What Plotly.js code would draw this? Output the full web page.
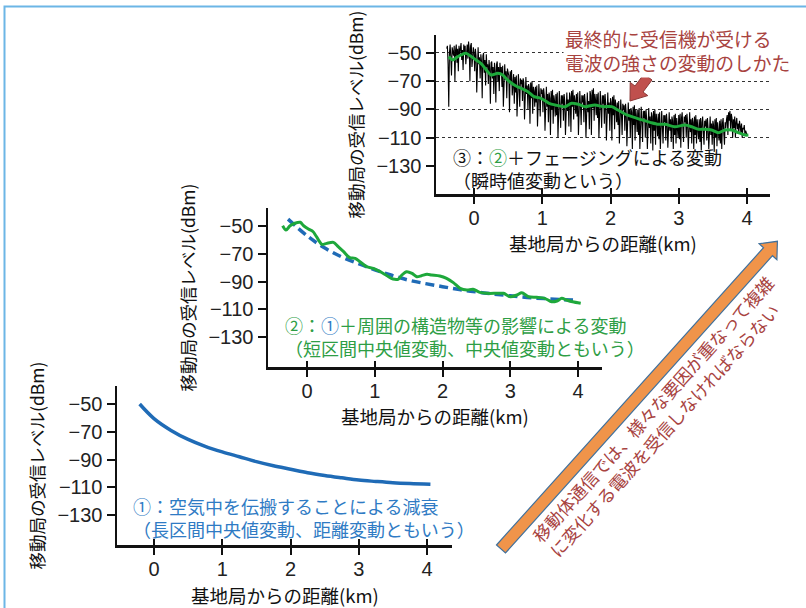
<!DOCTYPE html>
<html><head><meta charset="utf-8">
<script src="https://cdn.plot.ly/plotly-3.0.1.min.js"></script>
<style>html,body{margin:0;padding:0;background:#fff;}#chart{width:806px;height:608px;}</style>
</head><body><div id="chart"></div>
<script>
// ---------- DATA ----------
// Panel ① : distance attenuation (long-interval median)
const dist1  = [-0.21, 0, 0.25, 0.5, 0.75, 1.0, 1.25, 1.5, 1.75, 2.0, 2.25, 2.5, 2.75, 3.0, 3.25, 3.5, 3.75, 4.05];
const level1 = [-50, -60.5, -69, -75.5, -80.5, -84.5, -88, -91.5, -94.5, -97, -99.5, -101.5, -103.2, -104.8, -105.8, -106.7, -107.3, -107.8];

// Panel ② : blue dashed trend (①) and green short-interval median
const dist2Trend  = [-0.28, 0, 0.25, 0.5, 0.75, 1.0, 1.25, 1.5, 1.75, 2.0, 2.25, 2.5, 2.75, 3.0, 3.25, 3.5, 3.75, 4.0];
const level2Trend = [-45, -57, -65.5, -72, -77, -81.5, -85.5, -89, -91.5, -93.7, -95.8, -97.5, -99, -100.3, -101.5, -102.3, -103, -103.5];
const dist2Median  = [-0.36,-0.31,-0.25,-0.18,-0.10,-0.05,0.02,0.09,0.17,0.22,0.29,0.39,0.46,0.54,0.63,0.71,0.78,0.88,0.98,1.08,1.18,1.27,1.35,1.40,1.47,1.55,1.62,1.69,1.77,1.84,1.96,2.06,2.16,2.26,2.36,2.45,2.55,2.65,2.80,2.90,3.00,3.10,3.17,3.27,3.39,3.51,3.61,3.69,3.76,3.83,3.92,4.04];
const level2Median = [-49.8,-52.9,-49.8,-48.0,-47.3,-49.8,-52.2,-54.1,-60.1,-63.2,-62.5,-61.8,-64.9,-68.5,-72.8,-73.3,-75.7,-79.3,-80.5,-82.9,-85.8,-88.2,-88.2,-85.3,-82.9,-84.1,-86.5,-85.8,-84.8,-85.3,-86.0,-87.7,-90.8,-94.9,-96.1,-95.6,-97.8,-98.5,-98.5,-98.5,-101.0,-99.7,-98.1,-101.0,-101.4,-102.1,-104.6,-104.0,-102.1,-103.3,-104.6,-105.7];

// Panel ③ : instantaneous level with fading (sampled every 0.01 km from -0.40 km)
const fadingStartKm = -0.40;
const fadingStepKm  = 0.01;
const fadingLevel = [
 -47,-45,-58,-88,-50,-44,-53,-66,-46,-49,
 -52,-45,-70,-48,-44,-57,-47,-63,-45,-51,
 -46,-43,-55,-48,-62,-44,-50,-45,-58,-47,
 -44,-54,-42,-47,-70,-45,-43,-60,-48,-46,
 -50,-63,-47,-52,-78,-49,-46,-58,-53,-68,
 -51,-56,-82,-52,-50,-64,-55,-73,-51,-60,
 -58,-72,-55,-61,-86,-57,-56,-68,-60,-79,
 -57,-63,-85,-58,-56,-70,-60,-77,-57,-65,
 -60,-74,-59,-88,-62,-58,-69,-63,-82,-61,
 -64,-66,-92,-63,-71,-62,-80,-67,-65,-86,
 -67,-78,-66,-95,-69,-65,-74,-88,-68,-72,
 -69,-84,-68,-71,-97,-70,-67,-79,-73,-90,
 -72,-75,-100,-71,-82,-70,-93,-74,-77,-88,
 -74,-85,-73,-102,-76,-72,-81,-95,-75,-79,
 -76,-92,-75,-80,-105,-77,-74,-88,-79,-99,
 -78,-82,-108,-77,-90,-76,-100,-80,-84,-95,
 -79,-94,-78,-110,-82,-77,-88,-103,-80,-86,
 -80,-98,-79,-84,-108,-81,-78,-91,-83,-102,
 -78,-81,-106,-77,-88,-76,-97,-80,-84,-93,
 -79,-95,-78,-108,-81,-77,-87,-101,-80,-85,
 -80,-99,-79,-85,-110,-82,-78,-92,-84,-104,
 -77,-80,-108,-76,-89,-75,-98,-79,-83,-94,
 -79,-96,-78,-110,-81,-77,-88,-103,-80,-86,
 -80,-100,-79,-86,-112,-82,-78,-93,-85,-105,
 -82,-85,-112,-81,-94,-80,-104,-83,-88,-99,
 -85,-101,-84,-114,-87,-83,-93,-108,-86,-90,
 -87,-105,-86,-92,-116,-88,-85,-98,-90,-110,
 -89,-92,-118,-88,-101,-87,-112,-90,-95,-106,
 -90,-108,-89,-118,-92,-88,-99,-113,-91,-96,
 -91,-110,-90,-97,-118,-93,-89,-103,-95,-114,
 -92,-95,-119,-91,-105,-90,-115,-93,-98,-109,
 -93,-111,-92,-118,-95,-91,-102,-114,-94,-99,
 -94,-112,-93,-99,-117,-96,-92,-105,-97,-113,
 -95,-98,-118,-94,-108,-93,-114,-96,-101,-110,
 -94,-111,-93,-117,-96,-92,-103,-113,-95,-99,
 -94,-110,-93,-100,-118,-96,-92,-106,-97,-114,
 -96,-99,-118,-95,-108,-94,-114,-97,-102,-111,
 -97,-113,-96,-119,-99,-95,-106,-115,-98,-102,
 -97,-112,-96,-103,-118,-99,-95,-108,-100,-115,
 -98,-101,-120,-97,-110,-96,-116,-99,-104,-112,
 -98,-114,-97,-118,-100,-96,-107,-115,-99,-103,
 -97,-94,-108,-92,-98,-91,-105,-93,-96,-110,
 -97,-103,-95,-110,-99,-96,-104,-100,-107,-98,
 -102,-106,-100,-110,-103,-104,-101,-108,-105,-107,
 -108];
const dist3Median  = [-0.37,-0.31,-0.26,-0.19,-0.12,-0.04,0.03,0.10,0.18,0.25,0.35,0.42,0.49,0.59,0.69,0.79,0.88,0.98,1.10,1.19,1.33,1.43,1.53,1.63,1.77,1.89,2.02,2.11,2.24,2.36,2.46,2.58,2.70,2.80,2.94,3.09,3.19,3.29,3.38,3.48,3.58,3.68,3.78,3.87,3.97,4.02];
const level3Median = [-52.6,-55.0,-53.3,-51.4,-50.2,-52.6,-55.0,-57.3,-62.0,-65.6,-64.4,-65.6,-69.1,-72.7,-75.0,-77.4,-80.9,-82.1,-85.6,-86.8,-88.0,-85.6,-86.3,-88.0,-86.8,-88.0,-88.0,-90.4,-93.9,-95.8,-97.4,-99.1,-100.5,-100.5,-102.2,-101.0,-102.2,-104.0,-104.0,-104.5,-106.4,-104.5,-104.5,-106.4,-108.1,-108.1];

// Ticks and labels
const xTicks = [0, 1, 2, 3, 4];
const yTicks = [-50, -70, -90, -110, -130];
const gridTicks = [-50, -70, -90, -110];
const xTitle = '基地局からの距離(km)';
const yTitle = '移動局の受信レベル(dBm)';
const note1 = ['①：空気中を伝搬することによる減衰', '（長区間中央値変動、距離変動ともいう）'];
const note2 = ['②：<span style="color:#2F7BC4">①</span>＋周囲の構造物等の影響による変動', '（短区間中央値変動、中央値変動ともいう）'];
const note3 = ['③：<span style="color:#2E9E45">②</span>＋フェージングによる変動', '（瞬時値変動という）'];
const noteTop = ['最終的に受信機が受ける', '電波の強さの変動のしかた'];
const noteArrow = ['移動体通信では、様々な要因が重なって複雑', 'に変化する電波を受信しなければならない'];

// ---------- STYLE / LAYOUT ----------
const W = 806, H = 608;
const PX = p => p / W, PY = p => 1 - p / H;
const P = (x, y) => PX(x).toFixed(5) + ',' + PY(y).toFixed(5);
const poly = pts => 'M' + pts.map(p => P(p[0], p[1])).join('L') + 'Z';

const BLUE = '#1F6BB6', GREEN = '#1EA83B', TXTBLUE = '#2F7BC4', TXTGREEN = '#2E9E45', RED = '#A8433F';
const CJK = 'Noto Sans CJK JP, sans-serif';
const NUM = 'Liberation Sans, Arial, sans-serif';

function xa(domL, domR, range) {
  return {domain: [PX(domL), PX(domR)], range: range, showline: true, linecolor: '#111', linewidth: 2.5,
    ticks: 'outside', ticklen: 7, tickwidth: 2, tickcolor: '#111', tickvals: xTicks,
    tickfont: {family: NUM, size: 20, color: '#222'}, ticklabelstandoff: -3,
    showgrid: false, zeroline: false, fixedrange: true};
}
// overlay x-axis that adds the inner half of the crossing tick marks
function xin(over, anchor, domL, domR, range) {
  return {overlaying: over, anchor: anchor, domain: [PX(domL), PX(domR)], range: range, showline: false,
    ticks: 'inside', ticklen: 6, tickwidth: 2, tickcolor: '#111', tickvals: xTicks, showticklabels: false,
    showgrid: false, zeroline: false, fixedrange: true};
}
function ya(domB, domT, range) {
  return {domain: [PY(domB), PY(domT)], range: range, showline: true, linecolor: '#111', linewidth: 2.5,
    ticks: 'outside', ticklen: 8, tickwidth: 2, tickcolor: '#111', tickvals: yTicks,
    tickfont: {family: NUM, size: 20, color: '#222'},
    showgrid: false, zeroline: false, fixedrange: true,
    title: {text: yTitle, font: {family: CJK, size: 17.5, color: '#111'}, standoff: 9}};
}

const traces = [
  {x: dist1, y: level1, xaxis: 'x', yaxis: 'y', mode: 'lines', line: {color: BLUE, width: 3.5, shape: 'spline'}},
  {x: dist2Trend, y: level2Trend, xaxis: 'x2', yaxis: 'y2', mode: 'lines', line: {color: BLUE, width: 3.5, dash: '9px,5px', shape: 'spline'}},
  {x: dist2Median, y: level2Median, xaxis: 'x2', yaxis: 'y2', mode: 'lines', line: {color: GREEN, width: 3, shape: 'spline', smoothing: 0.8}},
  {y: fadingLevel, x0: fadingStartKm, dx: fadingStepKm, xaxis: 'x3', yaxis: 'y3', mode: 'lines', line: {color: '#000', width: 1.1}},
  {x: dist3Median, y: level3Median, xaxis: 'x3', yaxis: 'y3', mode: 'lines', line: {color: GREEN, width: 3, shape: 'spline', smoothing: 0.8}},
  {x: [], y: [], xaxis: 'x3', yaxis: 'y4', mode: 'lines', showlegend: false},
  {x: [], y: [], xaxis: 'x4', yaxis: 'y', mode: 'lines', showlegend: false},
  {x: [], y: [], xaxis: 'x5', yaxis: 'y2', mode: 'lines', showlegend: false},
  {x: [], y: [], xaxis: 'x6', yaxis: 'y3', mode: 'lines', showlegend: false}
];

const note = (lines, x, y, color, size, extra) => Object.assign({
  text: lines.join('<br>'),
  xref: 'paper', yref: 'paper', x: PX(x), y: PY(y), xanchor: 'left', yanchor: 'middle', align: 'left',
  showarrow: false, font: {family: CJK, size: size, color: color}}, extra || {});
const axTitle = (x, y) => ({text: xTitle, xref: 'paper', yref: 'paper', x: PX(x), y: PY(y), xanchor: 'center', yanchor: 'middle',
  showarrow: false, font: {family: CJK, size: 18.5, color: '#111'}});

const layout = {
  width: W, height: H, margin: {l: 0, r: 0, t: 0, b: 0}, paper_bgcolor: '#fff', plot_bgcolor: 'rgba(0,0,0,0)',
  showlegend: false, font: {family: CJK},
  xaxis: xa(117, 452, [-0.542, 4.366]), yaxis: Object.assign(ya(545, 386, [-151.6, -37.0]), {anchor: 'x'}),
  xaxis2: Object.assign(xa(268, 602, [-0.576, 4.354]), {anchor: 'y2'}), yaxis2: Object.assign(ya(367, 208, [-151.6, -37.0]), {anchor: 'x2'}),
  xaxis3: Object.assign(xa(436, 770, [-0.557, 4.337]), {anchor: 'y3'}), yaxis3: Object.assign(ya(194, 35, [-149.8, -37.3]), {anchor: 'x3'}),
  xaxis4: xin('x', 'y', 117, 452, [-0.542, 4.366]),
  xaxis5: xin('x2', 'y2', 268, 602, [-0.576, 4.354]),
  xaxis6: xin('x3', 'y3', 436, 770, [-0.557, 4.337]),
  yaxis4: {overlaying: 'y3', anchor: 'x3', range: [-149.8, -37.3], tickvals: gridTicks, showgrid: true, griddash: 'dot',
    gridcolor: '#333', gridwidth: 1, showticklabels: false, ticks: '', showline: false, zeroline: false, fixedrange: true},
  annotations: [
    axTitle((117 + 452) / 2, 594.5), axTitle((268 + 602) / 2, 416), axTitle((436 + 770) / 2, 243),
    note(note1, 131, 517.5, TXTBLUE, 18),
    note(note2, 283, 336, TXTGREEN, 18),
    note(note3, 451, 168.5, '#111', 18),
    note(noteTop, 563, 50, RED, 18.8, {bgcolor: '#fff'}),
    note(noteArrow, 661, 417, RED, 17.5, {xanchor: 'center', textangle: -48})
  ],
  shapes: [
    {type: 'rect', xref: 'paper', yref: 'paper', x0: PX(4.5), x1: PX(812), y0: PY(640), y1: PY(6.5), line: {color: '#6CB6E6', width: 2}},
    {type: 'path', xref: 'paper', yref: 'paper', path: poly([[496.5,545],[763.5,247.7],[759.1,243.7],[777.4,241.3],[776.9,259.7],[772.5,255.7],[505.5,553]]),
      fillcolor: '#F0944A', line: {color: '#41719C', width: 1.2}},
    {type: 'path', xref: 'paper', yref: 'paper', path: poly([[644,74],[635,86],[630.2,82.4],[630,101],[647.8,95.6],[643,92],[652,80]]),
      fillcolor: '#C0504D', line: {color: '#8C3836', width: 1}}
  ]
};

Plotly.newPlot('chart', traces, layout, {displayModeBar: false, staticPlot: true});
</script>
</body></html>
